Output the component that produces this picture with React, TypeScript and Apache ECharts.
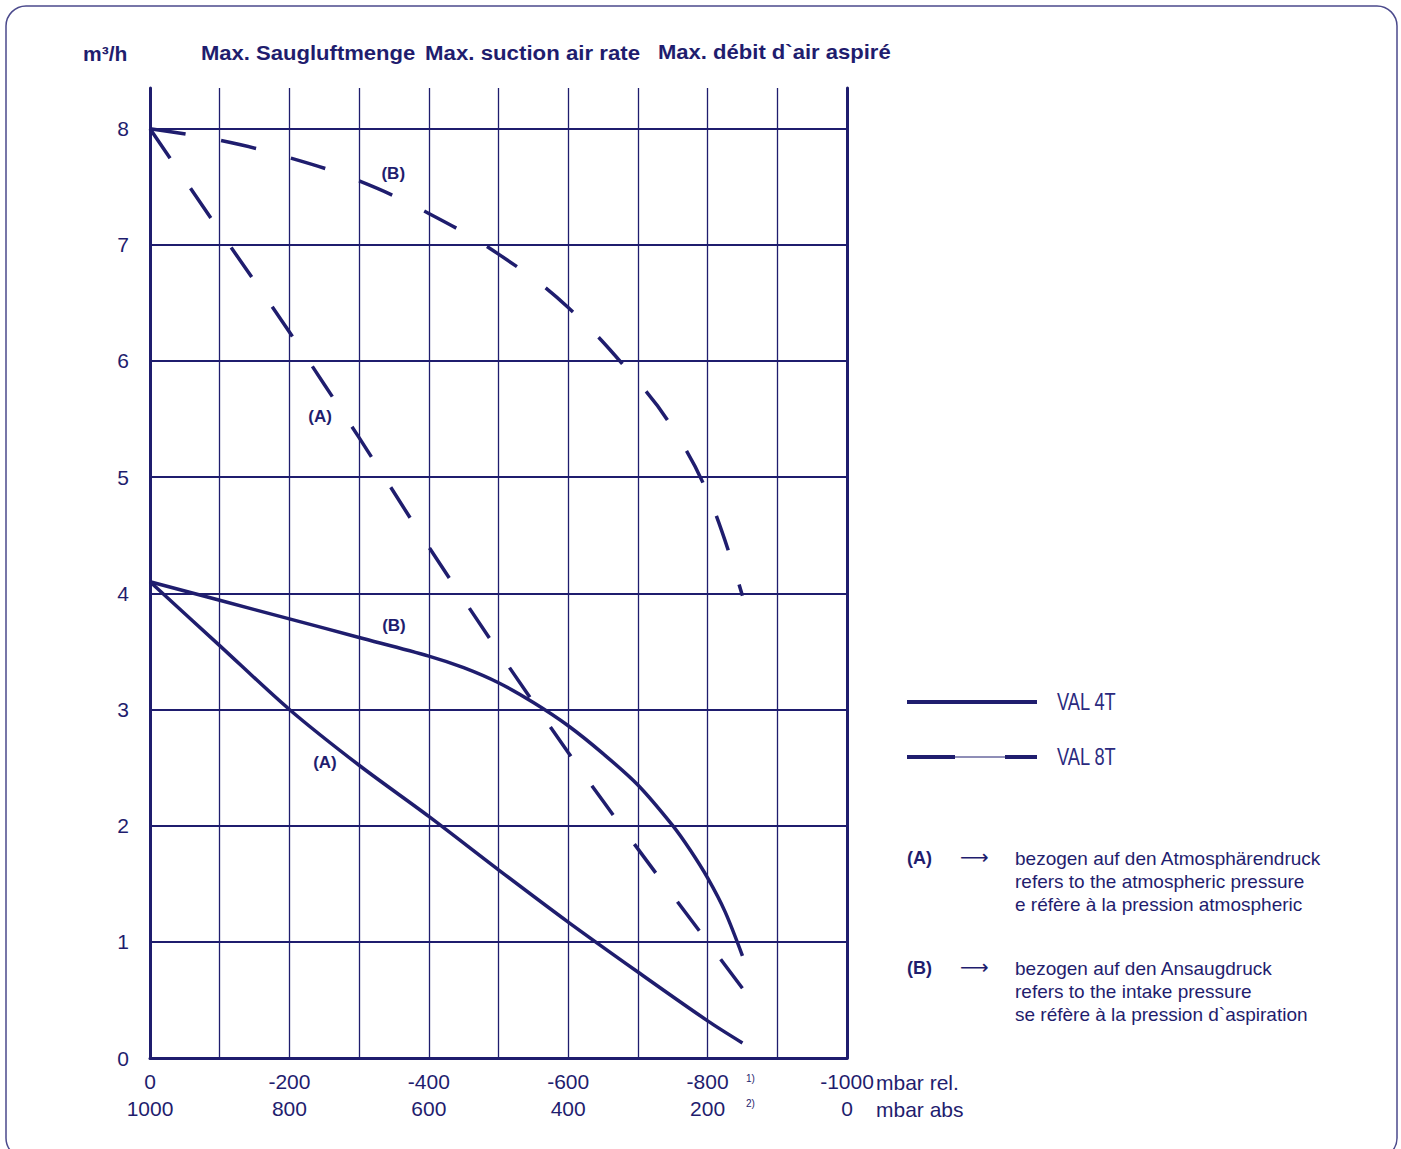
import React, { useEffect, useRef } from 'react';
import * as echarts from 'echarts';

// ---- data (x: mbar rel., y: m³/h) ----
const val4T_A: [number, number][] = [
  [0, 4.1], [-100, 3.55], [-200, 3.0], [-300, 2.52], [-400, 2.08], [-500, 1.62],
  [-600, 1.17], [-700, 0.74], [-800, 0.32], [-850, 0.13],
];
const val4T_B: [number, number][] = [
  [0, 4.1], [-100, 3.94], [-200, 3.78], [-300, 3.62], [-400, 3.46], [-450, 3.36],
  [-500, 3.23], [-550, 3.06], [-600, 2.86], [-650, 2.62], [-700, 2.35], [-750, 2.0],
  [-775, 1.79], [-800, 1.55], [-825, 1.26], [-850, 0.88],
];
const val8T_A: [number, number][] = [
  [0, 8.0], [-100, 7.12], [-200, 6.25], [-300, 5.34], [-400, 4.4], [-500, 3.5],
  [-600, 2.63], [-700, 1.8], [-800, 1.0], [-850, 0.6],
];
const val8T_B: [number, number][] = [
  [0, 8.0], [-100, 7.9], [-200, 7.75], [-300, 7.55], [-400, 7.27], [-500, 6.92],
  [-600, 6.46], [-700, 5.82], [-750, 5.42], [-800, 4.86], [-850, 3.98],
];
const curveLabels: [number, number, string][] = [
  [-349, 7.61, '(B)'],
  [-244, 5.52, '(A)'],
  [-350, 3.72, '(B)'],
  [-251, 2.54, '(A)'],
];
const titleTexts = ['m³/h', 'Max. Saugluftmenge', 'Max. suction air rate', 'Max. débit d`air aspiré'];
const legendNames = ['VAL 4T', 'VAL 8T'];
const noteA = ['bezogen auf den Atmosphärendruck', 'refers to the atmospheric pressure', 'e réfère à la pression atmospheric'];
const noteB = ['bezogen auf den Ansaugdruck', 'refers to the intake pressure', 'se réfère à la pression d`aspiration'];

const C = '#1f1d6e';
const FONT = "'Liberation Sans', Arial, sans-serif";

export default function App() {
  const ref = useRef<HTMLDivElement>(null);
  useEffect(() => {
    document.body.style.margin = '0';
    document.body.style.overflow = 'hidden';
    const chart = echarts.init(ref.current!, null, { renderer: 'svg' });
    const txt = (text: string, x: number, y: number, size: number, bold = false, family = FONT, fill = C, sx = 1, align = 'left') => ({
      type: 'text',
      x, y, scaleX: sx,
      style: { text, x: 0, y: 0, fill, font: `${bold ? 'bold ' : ''}${size}px ${family}`, align, verticalAlign: 'middle' },
    });
    const ln = (x1: number, y1: number, x2: number, y2: number, w: number) => ({
      type: 'line', shape: { x1, y1, x2, y2 }, style: { stroke: C, lineWidth: w },
    });
    const solid = { color: C, width: 3.5 };
    const dashed = { color: C, width: 3.5, type: [36, 36] as number[] };
    const staticGraphics: any[] = [
      { type: 'rect', shape: { x: 6, y: 6, width: 1391, height: 1152, r: 20 }, style: { fill: 'none', stroke: '#4b4a8c', lineWidth: 1.5 } },
      txt(titleTexts[0], 83, 53, 21, true),
      txt(titleTexts[1], 201, 53, 21, true, FONT, C, 1.05),
      txt(titleTexts[2], 425, 53, 21, true, FONT, C, 1.06),
      txt(titleTexts[3], 658, 52, 21, true, FONT, C, 1.05),
      txt('mbar rel.', 876, 1082, 21),
      txt('mbar abs', 876, 1109, 21),
      txt('1)', 746, 1078, 10),
      txt('2)', 746, 1103, 10),
      ln(907, 702, 1037, 702, 4),
      ln(907, 757, 955, 757, 4),
      ln(955, 757, 1005, 757, 1),
      ln(1005, 757, 1037, 757, 4),
      txt(legendNames[0], 1057, 702, 24, false, FONT, '#2b2a7e', 0.76),
      txt(legendNames[1], 1057, 757, 24, false, FONT, '#2b2a7e', 0.76),
      txt('(A)', 907, 858, 18, true),
      txt('⟶', 960, 857, 20, false, "'DejaVu Sans', sans-serif"),
      ...noteA.map((t, i) => txt(t, 1015, 858 + i * 23, 19)),
      txt('(B)', 907, 968, 18, true),
      txt('⟶', 960, 967, 20, false, "'DejaVu Sans', sans-serif"),
      ...noteB.map((t, i) => txt(t, 1015, 968 + i * 23, 19)),
    ];
    chart.setOption({
      animation: false,
      backgroundColor: '#ffffff',
      grid: { left: 150, right: 554, top: 88, bottom: 91, containLabel: false, outerBoundsMode: 'none' },
      xAxis: {
        type: 'value', min: -1000, max: 0, interval: 100, inverse: true,
        axisLine: { show: true, onZero: false, lineStyle: { color: C, width: 3 } },
        axisTick: { show: false },
        splitLine: { show: true, lineStyle: { color: C, width: 1.3 } },
        axisLabel: {
          color: C, fontSize: 21, fontFamily: FONT, lineHeight: 27, margin: 10,
          formatter: (v: number) => {
            const r = Math.round(v);
            return r % 200 === 0 ? `${r}\n${1000 + r}` : '';
          },
        },
      },
      yAxis: [
        {
          type: 'value', min: 0, max: 8.35, interval: 1,
          axisLine: { show: true, lineStyle: { color: C, width: 3 } },
          axisTick: { show: false },
          splitLine: { show: true, showMaxLine: false, lineStyle: { color: C, width: 1.8 } },
          axisLabel: {
            color: C, fontSize: 21, fontFamily: FONT, margin: 21,
            formatter: (v: number) => (Math.abs(v - Math.round(v)) < 1e-6 ? String(Math.round(v)) : ''),
          },
        },
        {
          type: 'value', min: 0, max: 8.35, position: 'right',
          axisLine: { show: true, lineStyle: { color: C, width: 3 } },
          axisTick: { show: false }, axisLabel: { show: false }, splitLine: { show: false },
        },
      ],
      series: [
        { name: 'VAL 4T (A)', type: 'line', data: val4T_A, smooth: 0.3, symbol: 'none', lineStyle: solid },
        { name: 'VAL 4T (B)', type: 'line', data: val4T_B, smooth: 0.3, symbol: 'none', lineStyle: solid },
        { name: 'VAL 8T (A)', type: 'line', data: val8T_A, smooth: 0.3, symbol: 'none', lineStyle: dashed },
        { name: 'VAL 8T (B)', type: 'line', data: val8T_B, smooth: 0.4, symbol: 'none', lineStyle: dashed },
      ],
      graphic: staticGraphics,
    });
    const labelGraphics = curveLabels.map(([x, y, t]) => {
      const p = chart.convertToPixel({ gridIndex: 0 }, [x, y]) as number[];
      return txt(t, p[0], p[1], 17, true, FONT, C, 1, 'center');
    });
    chart.setOption({ graphic: [...staticGraphics, ...labelGraphics] });
    return () => chart.dispose();
  }, []);
  return <div ref={ref} style={{ width: 1401, height: 1149 }} />;
}
